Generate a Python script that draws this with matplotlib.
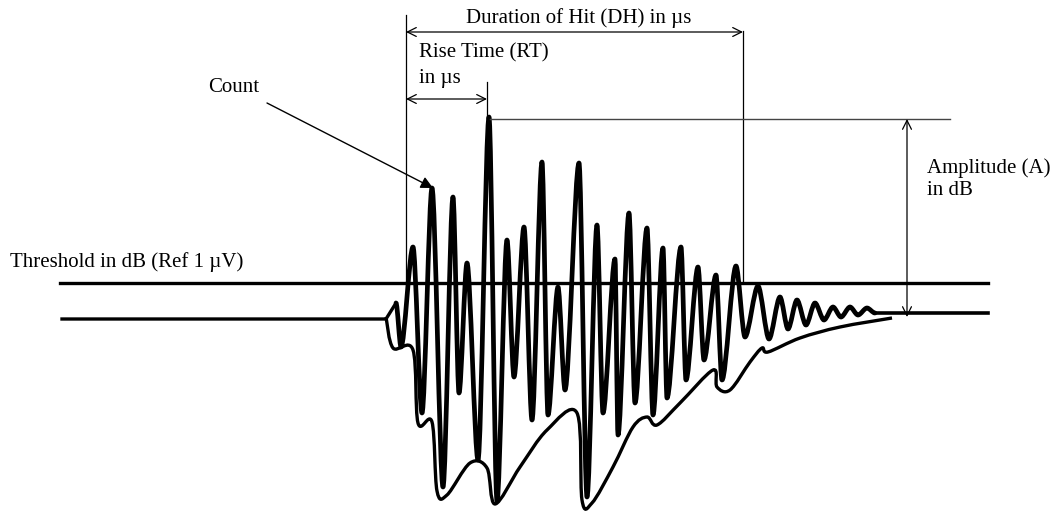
import matplotlib.pyplot as plt
from matplotlib.path import Path
from matplotlib.patches import PathPatch

# acoustic emission hit (time ~ px, amplitude above baseline)
lead_t = [62, 386, 396, 401]
lead_a = [0, 0, 16, -28]

peak_t = [413, 432, 453, 467, 489, 507, 524, 542, 558, 579, 597, 615, 629,
          647, 663, 681, 698, 716, 736, 758, 780, 797, 815, 833, 850, 867]
peak_a = [72, 131, 122, 56, 202, 79, 92, 157, 32, 156, 94, 60, 106,
          91, 71, 72, 52, 44, 53, 33, 22, 19, 16, 12, 12, 11]
valley_t = [422, 443, 459, 478, 497, 514, 532, 548, 565, 587, 603, 618, 635,
            653, 667, 686, 704, 722, 745, 769, 788, 806, 824, 841, 858, 875]
valley_a = [-94, -168, -74, -141, -182, -58, -101, -96, -71, -178, -94, -116, -84,
            -96, -79, -61, -41, -61, -18, -20, -10, -6, -1, 2, 4, 6]

tail_t = [988]
tail_a = [6]

env_t = [386, 393, 413, 418, 432, 437, 447, 470, 487, 495, 520, 547, 577, 582,
         592, 613, 633, 647, 657, 680, 713, 717, 730, 750, 762, 768, 800, 840, 892]
env_a = [2, -29, -31, -104, -103, -172, -176, -144, -149, -185, -148, -111, -94, -181,
         -184, -148, -108, -98, -106, -84, -51, -68, -71, -43, -29, -33, -19, -8, 1]

threshold = 36
t_start, t_rise, t_end = 406, 487, 743


def rounded_path(ts, vs, k):
    # bezier through the extrema with flat tangents, so peaks come out rounded
    verts = [(ts[0], vs[0])]
    codes = [Path.MOVETO]
    for i in range(1, len(ts)):
        dt = ts[i] - ts[i - 1]
        verts += [(ts[i - 1] + k * dt, vs[i - 1]), (ts[i] - k * dt, vs[i]), (ts[i], vs[i])]
        codes += [Path.CURVE4] * 3
    return Path(verts, codes)


def smooth_path(ts, vs):
    # catmull-rom style curve for the lower envelope
    pts = list(zip(ts, vs))
    verts = [pts[0]]
    codes = [Path.MOVETO]
    for i in range(1, len(pts)):
        p0 = pts[max(i - 2, 0)]
        p1 = pts[i - 1]
        p2 = pts[i]
        p3 = pts[min(i + 1, len(pts) - 1)]
        c1 = (p1[0] + (p2[0] - p0[0]) / 6, p1[1] + (p2[1] - p0[1]) / 6)
        c2 = (p2[0] - (p3[0] - p1[0]) / 6, p2[1] - (p3[1] - p1[1]) / 6)
        verts += [c1, c2, p2]
        codes += [Path.CURVE4] * 3
    return Path(verts, codes)


fig = plt.figure(figsize=(10.56, 5.11), dpi=100)
ax = fig.add_axes([0, 0, 1, 1])
ax.set_xlim(0, 1056)
ax.set_ylim(319 - 511, 319)
ax.axis('off')

# waveform
wt = list(lead_t[2:])
wa = list(lead_a[2:])
for pt, pa, vt, va in zip(peak_t, peak_a, valley_t, valley_a):
    wt += [pt, vt]
    wa += [pa, va]
ax.plot(lead_t[:3], lead_a[:3], color='black', lw=2.4, solid_joinstyle='round')
ax.add_patch(PathPatch(rounded_path(wt, wa, 0.3), fill=False, edgecolor='black',
                       lw=3.4, joinstyle='round', capstyle='round'))
ax.plot([valley_t[-1]] + tail_t, [valley_a[-1]] + tail_a, color='black', lw=2.6)
ax.add_patch(PathPatch(smooth_path(env_t, env_a), fill=False, edgecolor='black',
                       lw=2.4, joinstyle='round'))

# threshold
ax.plot([60, 988], [threshold, threshold], color='black', lw=2.4)

thin = dict(color='black', lw=0.9)
ax.plot([t_start, t_start], [threshold, 304], **thin)
ax.plot([t_end, t_end], [threshold, 288], **thin)
ax.plot([t_rise, t_rise], [max(peak_a), 237], **thin)
ax.plot([t_rise + 3, 950], [max(peak_a) - 2, max(peak_a) - 2], color='#444444', lw=1.0)

arr = dict(arrowstyle='<->', color='black', lw=0.9, shrinkA=0, shrinkB=0,
           mutation_scale=16)
ax.annotate('', xy=(t_start, 287), xytext=(t_end, 287), arrowprops=arr)
ax.annotate('', xy=(t_start, 220), xytext=(t_rise, 220), arrowprops=arr)
ax.annotate('', xy=(907, max(peak_a) - 2), xytext=(907, 2), arrowprops=arr)

font = dict(family='Liberation Serif', fontsize=15, color='black')
ax.text(579, 301, 'Duration of Hit (DH) in µs', ha='center', va='center', **font)
ax.text(419, 266, 'Rise Time (RT)', ha='left', va='center', **font)
ax.text(419, 241, 'in µs', ha='left', va='center', **font)
ax.text(234, 232, 'Count', ha='center', va='center', **font)
ax.text(10, 57, 'Threshold in dB (Ref 1 µV)', ha='left', va='center', **font)
ax.text(927, 151, 'Amplitude (A)', ha='left', va='center', **font)
ax.text(927, 129, 'in dB', ha='left', va='center', **font)

ax.annotate('', xy=(433, 131), xytext=(267, 216),
            arrowprops=dict(arrowstyle='-|>', color='black', lw=1.0,
                            shrinkA=0, shrinkB=0, mutation_scale=18))

fig.savefig('out.png', dpi=100)
